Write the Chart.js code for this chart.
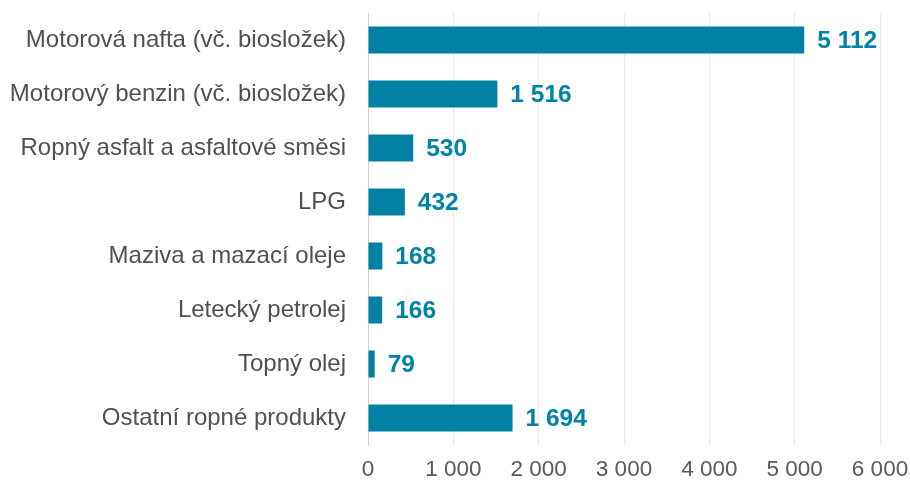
<!DOCTYPE html>
<html>
<head>
<meta charset="utf-8">
<script src="https://cdn.jsdelivr.net/npm/chart.js@4"></script>
<style>
  html, body { margin: 0; padding: 0; background: #fff; }
  canvas { display: block; }
</style>
</head>
<body>
<canvas id="chart" width="910" height="484"></canvas>
<script>
const categories = [
  "Motorová nafta (vč. biosložek)",
  "Motorový benzin (vč. biosložek)",
  "Ropný asfalt a asfaltové směsi",
  "LPG",
  "Maziva a mazací oleje",
  "Letecký petrolej",
  "Topný olej",
  "Ostatní ropné produkty",
];
const values = [5112, 1516, 530, 432, 168, 166, 79, 1694];
const xTicks = [0, 1000, 2000, 3000, 4000, 5000, 6000];

const BAR_COLOR = "#0081a4";
const LABEL_COLOR = "#0083a8";
const FONT = "'Liberation Sans', Arial, sans-serif";

function fmt(n) {
  return String(n).replace(/\B(?=(\d{3})+(?!\d))/g, " ");
}

// simple value labels at the bar ends
const valueLabels = {
  id: "valueLabels",
  afterDatasetsDraw(chart) {
    const ctx = chart.ctx;
    const meta = chart.getDatasetMeta(0);
    ctx.save();
    ctx.font = "bold 24.5px " + FONT;
    ctx.fillStyle = LABEL_COLOR;
    ctx.textAlign = "left";
    ctx.textBaseline = "middle";
    meta.data.forEach((bar, i) => {
      ctx.fillText(fmt(values[i]), bar.x + 13, bar.y + 1.5);
    });
    ctx.restore();
  },
};

new Chart(document.getElementById("chart"), {
  type: "bar",
  data: {
    labels: categories,
    datasets: [
      {
        data: values,
        backgroundColor: BAR_COLOR,
        borderWidth: 0,
        categoryPercentage: 1,
        barPercentage: 0.5,
      },
    ],
  },
  options: {
    indexAxis: "y",
    responsive: false,
    animation: false,
    layout: { padding: { left: 0, top: 13, right: 30, bottom: 0 } },
    plugins: {
      legend: { display: false },
      tooltip: { enabled: false },
    },
    scales: {
      x: {
        min: 0,
        max: 6000,
        afterBuildTicks(scale) {
          scale.ticks = xTicks.map((v) => ({ value: v }));
        },
        afterFit(scale) {
          scale.height = 39;
          scale.paddingLeft = 0;
          scale.paddingRight = 0;
        },
        grid: { color: "#e8e8e8", lineWidth: 1, drawTicks: false },
        border: { display: false },
        ticks: {
          color: "#595959",
          font: { family: FONT, size: 22.5 },
          padding: 11,
          maxRotation: 0,
          callback: (v) => fmt(v),
        },
      },
      y: {
        afterFit(scale) {
          scale.width = 368;
          scale.paddingTop = 0;
          scale.paddingBottom = 0;
        },
        grid: { display: false, drawTicks: false },
        border: { display: true, color: "#d0d0d0", width: 1 },
        ticks: {
          color: "#505050",
          font: { family: FONT, size: 24 },
          padding: 22,
        },
      },
    },
  },
  plugins: [valueLabels],
});
</script>
</body>
</html>
